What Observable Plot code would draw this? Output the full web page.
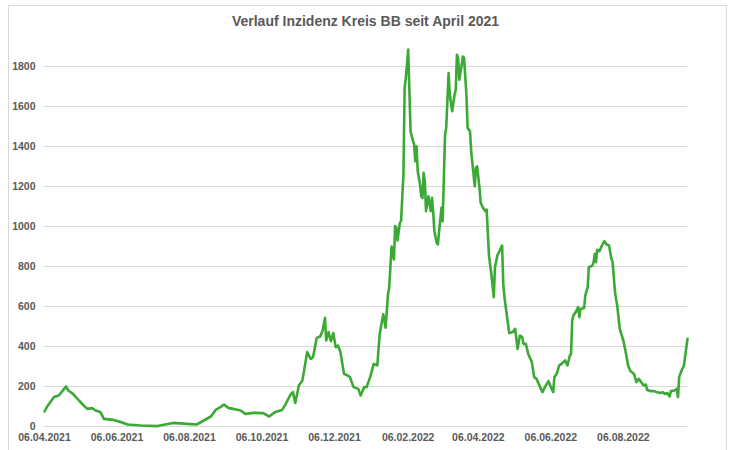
<!DOCTYPE html>
<html>
<head>
<meta charset="utf-8">
<script src="https://cdn.jsdelivr.net/npm/d3@7"></script>
<script src="https://cdn.jsdelivr.net/npm/@observablehq/plot@0.6"></script>
<style>
  html, body { margin: 0; padding: 0; background: #fff; }
  #wrap { position: relative; width: 733px; height: 450px; overflow: hidden; font-family: "Liberation Sans", Arial, sans-serif; }
  #frame { position: absolute; left: 8px; top: 5px; width: 719px; height: 500px; border: 1px solid #d9d9d9; box-sizing: border-box; }
  #title { position: absolute; top: 13px; left: 0; width: 731px; text-align: center; font-size: 14px; font-weight: bold; color: #595959; }
  #chart { position: absolute; left: 0; top: 0; }
</style>
</head>
<body>
<div id="wrap">
  <div id="frame"></div>
  <div id="chart"></div>
  <div id="title">Verlauf Inzidenz Kreis BB seit April 2021</div>
</div>
<script>
const title = "Verlauf Inzidenz Kreis BB seit April 2021";

const dates = [
  "2021-04-06","2021-04-08","2021-04-11","2021-04-14","2021-04-18","2021-04-21","2021-04-24","2021-04-26","2021-04-30",
  "2021-05-05","2021-05-09","2021-05-12","2021-05-16","2021-05-19","2021-05-23","2021-05-26",
  "2021-06-03","2021-06-09","2021-06-15","2021-06-26","2021-07-10","2021-07-23",
  "2021-08-04","2021-08-12","2021-08-18","2021-08-24","2021-08-28",
  "2021-09-01","2021-09-04","2021-09-08","2021-09-12","2021-09-18","2021-09-22","2021-09-29",
  "2021-10-07","2021-10-12","2021-10-17","2021-10-23","2021-10-26","2021-10-30",
  "2021-11-01","2021-11-03","2021-11-06","2021-11-09","2021-11-13","2021-11-16","2021-11-18","2021-11-21","2021-11-24","2021-11-26","2021-11-28","2021-11-29",
  "2021-12-01","2021-12-03","2021-12-05","2021-12-07","2021-12-09","2021-12-11","2021-12-14","2021-12-17","2021-12-19","2021-12-22","2021-12-26","2021-12-28","2021-12-31",
  "2022-01-02","2022-01-05","2022-01-08","2022-01-11","2022-01-13","2022-01-16","2022-01-18","2022-01-20","2022-01-21","2022-01-23","2022-01-25","2022-01-26","2022-01-27","2022-01-28","2022-01-30","2022-01-31",
  "2022-02-02","2022-02-03","2022-02-04","2022-02-06","2022-02-08","2022-02-09","2022-02-11","2022-02-12","2022-02-13","2022-02-14","2022-02-16","2022-02-17","2022-02-18","2022-02-19","2022-02-20","2022-02-21","2022-02-23","2022-02-25","2022-02-26","2022-02-27","2022-02-28",
  "2022-03-02","2022-03-03","2022-03-04","2022-03-06","2022-03-07","2022-03-08","2022-03-09","2022-03-10","2022-03-12","2022-03-13","2022-03-15","2022-03-17","2022-03-18","2022-03-19","2022-03-20","2022-03-21","2022-03-23","2022-03-24","2022-03-25","2022-03-27","2022-03-28","2022-03-30","2022-03-31",
  "2022-04-02","2022-04-03","2022-04-04","2022-04-05","2022-04-07","2022-04-08","2022-04-10","2022-04-12","2022-04-13","2022-04-15","2022-04-17","2022-04-19","2022-04-20","2022-04-22","2022-04-24","2022-04-26","2022-04-27","2022-04-28","2022-04-30",
  "2022-05-02","2022-05-05","2022-05-07","2022-05-09","2022-05-11","2022-05-13","2022-05-14","2022-05-16","2022-05-18","2022-05-21","2022-05-23","2022-05-25","2022-05-28","2022-05-30",
  "2022-06-01","2022-06-04","2022-06-06","2022-06-08","2022-06-09","2022-06-11","2022-06-13","2022-06-15","2022-06-18","2022-06-19","2022-06-20","2022-06-22","2022-06-23","2022-06-24","2022-06-25","2022-06-27","2022-06-29","2022-06-30",
  "2022-07-01","2022-07-04","2022-07-05","2022-07-07","2022-07-08","2022-07-11","2022-07-12","2022-07-13","2022-07-14","2022-07-15","2022-07-17","2022-07-19","2022-07-21","2022-07-23","2022-07-25","2022-07-27","2022-07-28","2022-07-30",
  "2022-08-01","2022-08-03","2022-08-06","2022-08-08","2022-08-10","2022-08-12","2022-08-15","2022-08-17","2022-08-19","2022-08-21","2022-08-23","2022-08-25","2022-08-26","2022-08-29",
  "2022-09-01","2022-09-03","2022-09-06","2022-09-08","2022-09-10","2022-09-12","2022-09-14","2022-09-15","2022-09-18","2022-09-20","2022-09-21","2022-09-22","2022-09-24","2022-09-26","2022-09-29"
];

const incidence = [
  75,97,122,147,155,177,200,180,163,
  130,105,88,92,80,72,38,
  33,22,10,5,2,18,
  13,10,30,50,83,
  97,110,92,88,80,63,68,
  67,50,72,83,113,160,
  172,118,205,230,372,338,347,443,450,480,543,430,
  472,427,467,397,405,372,263,255,247,197,188,155,197,
  197,247,313,305,461,561,494,661,694,900,835,1002,995,930,1018,1027,
  1260,1692,1742,1885,1476,1451,1409,1326,1401,1276,1210,1151,1143,1268,1226,1077,1151,1077,1143,1077,977,
  919,910,977,1093,1027,1243,1459,1493,1767,1659,1576,1659,1684,1859,1842,1734,1809,1850,1842,1659,1493,1476,1376,
  1260,1201,1293,1301,1193,1118,1093,1077,1085,852,760,647,794,855,880,905,713,647,555,
  467,472,488,388,455,447,413,413,363,322,247,238,197,172,
  197,227,197,172,247,263,305,313,330,318,305,355,363,530,555,572,597,547,
  588,593,655,697,797,805,822,863,822,883,877,905,927,910,905,838,822,672,
  597,488,430,372,305,277,263,222,238,222,205,210,183,177,
  177,172,167,172,163,167,150,177,180,188,147,247,280,305,438
];

const xTicks = ["2021-04-06","2021-06-06","2021-08-06","2021-10-06","2021-12-06","2022-02-06","2022-04-06","2022-06-06","2022-08-06"];
const yTicks = [0,200,400,600,800,1000,1200,1400,1600,1800];

const data = dates.map((d, i) => ({date: new Date(d + "T00:00:00Z"), value: incidence[i]}));
const fmt = d3.utcFormat("%d.%m.%Y");

const chart = Plot.plot({
  width: 733,
  height: 450,
  marginLeft: 44,
  marginRight: 46,
  marginTop: 46,
  marginBottom: 24,
  style: {fontFamily: "'Liberation Sans', Arial, sans-serif", fontSize: "10.5px", fontWeight: "bold", color: "#595959", background: "transparent"},
  x: {type: "utc", domain: [new Date("2021-04-06T00:00:00Z"), new Date("2022-09-29T00:00:00Z")]},
  y: {domain: [0, 1900]},
  marks: [
    Plot.gridY(yTicks, {stroke: "#d9d9d9", strokeOpacity: 1, strokeWidth: 1}),
    Plot.axisY(yTicks, {tickSize: 0, tickPadding: 9, label: null, fill: "#595959", tickFormat: d => String(d)}),
    Plot.axisX(xTicks.map(d => new Date(d + "T00:00:00Z")), {tickSize: 0, tickPadding: 7, label: null, tickFormat: fmt, fill: "#595959"}),
    Plot.line(data, {x: "date", y: "value", stroke: "#3aaa35", strokeWidth: 2.6, strokeLinejoin: "round"})
  ]
});
document.getElementById("chart").appendChild(chart);
</script>
</body>
</html>
